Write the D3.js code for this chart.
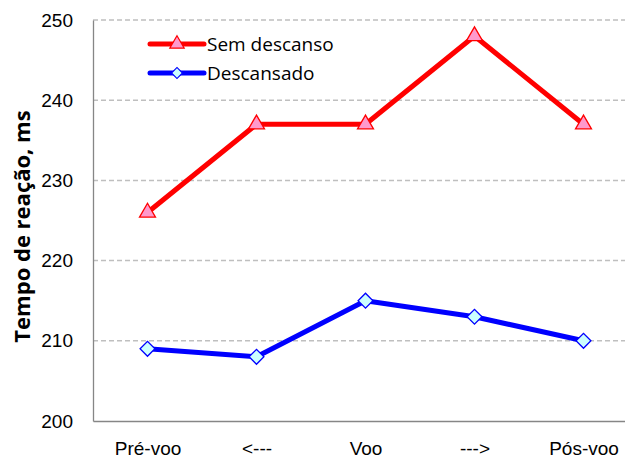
<!DOCTYPE html>
<html>
<head>
<meta charset="utf-8">
<script src="https://cdn.jsdelivr.net/npm/d3@7"></script>
<style>
  html, body { margin: 0; padding: 0; background: #fff; overflow: hidden; }
  svg { display: block; font-family: "Open Sans", "Noto Sans", sans-serif; }
</style>
</head>
<body>
<svg id="chart" width="625" height="461"></svg>
<script>
// Reaction time across flight phases
const categories = ["Pré-voo", "<---", "Voo", "--->", "Pós-voo"];
const semDescanso = [226, 237, 237, 248, 237];
const descansado = [209, 208, 215, 213, 210];
const yTicks = [200, 210, 220, 230, 240, 250];
const seriesNames = ["Sem descanso", "Descansado"];

const svg = d3.select("#chart");
const margin = { left: 93, top: 20, right: 638, bottom: 421 };

const x = d3.scalePoint().domain(categories).range([margin.left, margin.right]).padding(0.5);
const y = d3.scaleLinear().domain([200, 250]).range([margin.bottom, margin.top]);

// horizontal gridlines
svg.append("g").selectAll("line")
  .data(yTicks.filter(t => t > 200))
  .join("line")
  .attr("x1", margin.left).attr("x2", margin.right)
  .attr("y1", d => y(d)).attr("y2", d => y(d))
  .attr("stroke", "#bfbfbf").attr("stroke-width", 1.5)
  .attr("stroke-dasharray", "5,3");

// y axis
const yAxis = svg.append("g")
  .attr("transform", `translate(${margin.left},0)`)
  .call(d3.axisLeft(y).tickValues(yTicks).tickSize(0).tickPadding(20));
yAxis.select(".domain").attr("stroke", "#868686").attr("stroke-width", 1.3);
yAxis.selectAll("text").attr("font-size", 19).attr("fill", "#000");

// x axis
const xAxis = svg.append("g")
  .attr("transform", `translate(0,${margin.bottom})`)
  .call(d3.axisBottom(x).tickSize(0).tickPadding(21));
xAxis.select(".domain").attr("stroke", "#868686").attr("stroke-width", 1.3);
xAxis.selectAll("text").attr("font-size", 19).attr("fill", "#000");

// y axis title
svg.append("text")
  .attr("transform", `translate(30,${(margin.top + margin.bottom) / 2 + 6}) rotate(-90)`)
  .attr("text-anchor", "middle")
  .attr("font-size", 22).attr("font-weight", "bold")
  .text("Tempo de reação, ms");

const line = d3.line().x((d, i) => x(categories[i])).y(d => y(d));

const triangle = d3.symbol().type(d3.symbolTriangle).size(110);
const diamond = d3.symbol().type(d3.symbolSquare).size(110);

function drawSeries(values, color, markerPath, fill, markerStroke, rotate) {
  svg.append("path")
    .datum(values)
    .attr("d", line)
    .attr("fill", "none")
    .attr("stroke", color)
    .attr("stroke-width", 5)
    .attr("stroke-linejoin", "round");
  svg.append("g").selectAll("path")
    .data(values)
    .join("path")
    .attr("d", markerPath)
    .attr("transform", (d, i) => `translate(${x(categories[i])},${y(d)}) rotate(${rotate})`)
    .attr("fill", fill)
    .attr("stroke", markerStroke)
    .attr("stroke-width", 1.3);
}

drawSeries(semDescanso, "#ff0000", triangle(), "#ff99cc", "#ff0000", 0);
drawSeries(descansado, "#0000ff", diamond(), "#ccffff", "#0000ff", 45);

// legend
const legend = [
  { name: seriesNames[0], color: "#ff0000", path: d3.symbol().type(d3.symbolTriangle).size(90)(), fill: "#ff99cc", rotate: 0, yPos: 44 },
  { name: seriesNames[1], color: "#0000ff", path: d3.symbol().type(d3.symbolSquare).size(60)(), fill: "#ccffff", rotate: 45, yPos: 73 }
];
const lg = svg.append("g").selectAll("g").data(legend).join("g")
  .attr("transform", d => `translate(0,${d.yPos})`);
lg.append("line")
  .attr("x1", 150).attr("x2", 204)
  .attr("stroke", d => d.color).attr("stroke-width", 5).attr("stroke-linecap", "round");
lg.append("path")
  .attr("d", d => d.path)
  .attr("transform", d => `translate(177,0) rotate(${d.rotate})`)
  .attr("fill", d => d.fill).attr("stroke", d => d.color).attr("stroke-width", 1.2);
lg.append("text")
  .attr("x", 207).attr("dy", "0.35em")
  .attr("font-size", 19)
  .text(d => d.name);
</script>
</body>
</html>
